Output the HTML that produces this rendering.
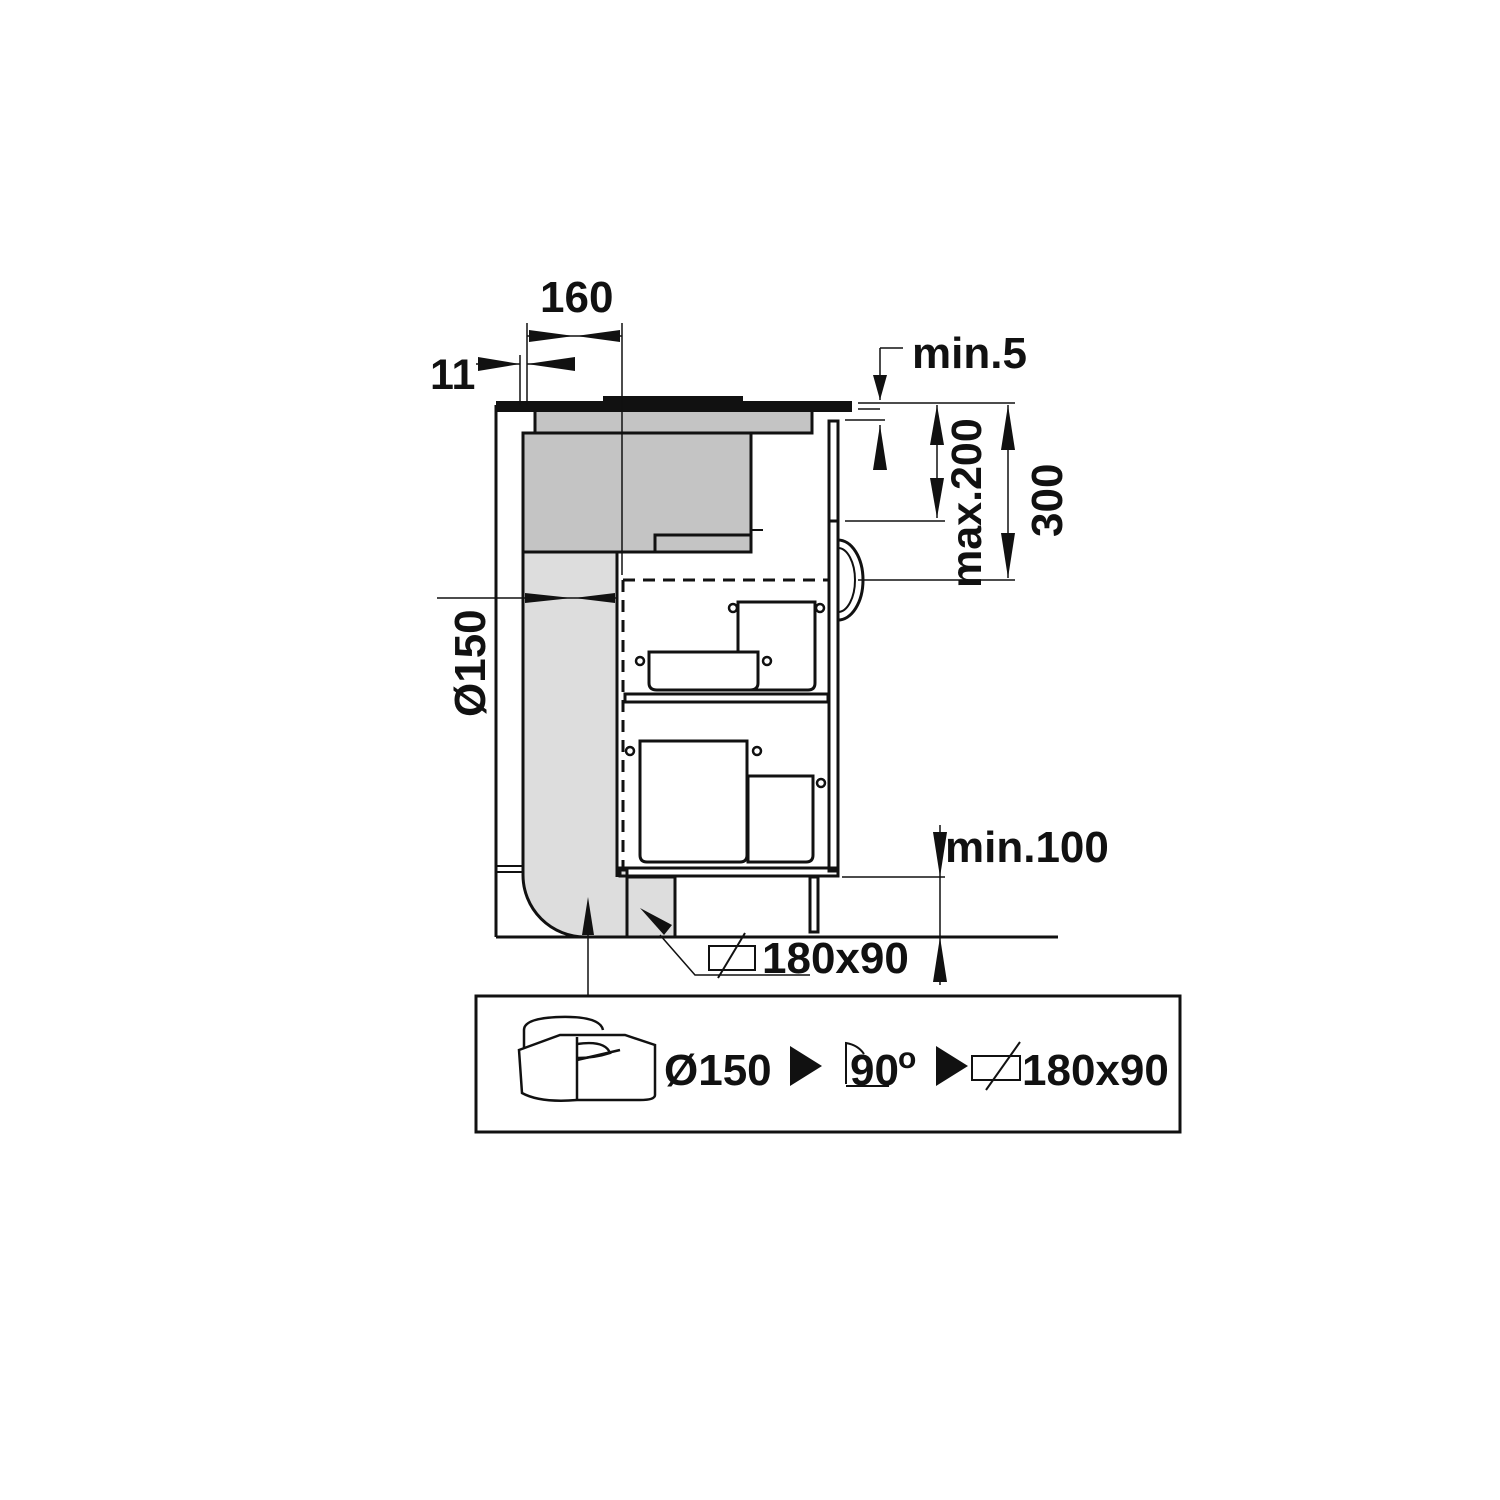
<!DOCTYPE html>
<html><head><meta charset="utf-8"><style>body{margin:0;background:#fff}svg{display:block}text{font-family:"Liberation Sans",sans-serif;font-weight:bold;fill:#111}</style></head>
<body>
<svg width="1500" height="1500" viewBox="0 0 1500 1500" xmlns="http://www.w3.org/2000/svg">
<g stroke="#111" fill="none">
<line x1="496" y1="405" x2="496" y2="937" stroke-width="3"/>
<line x1="496" y1="866" x2="523" y2="866" stroke-width="2"/>
<line x1="496" y1="872" x2="523" y2="872" stroke-width="2"/>
<line x1="496" y1="937" x2="1058" y2="937" stroke-width="3"/>
<path d="M523 552 H617 V870 H627 V937 H585 A62 62 0 0 1 523 875 Z" fill="#ddd" stroke-width="3"/>
<rect x="627" y="877" width="48" height="60" fill="#ddd" stroke-width="3"/>
<rect x="523" y="433" width="228" height="119" fill="#c4c4c4" stroke-width="3"/>
<rect x="535" y="407" width="277" height="26" fill="#c4c4c4" stroke-width="3"/>
<rect x="655" y="535" width="96" height="17" fill="#c4c4c4" stroke-width="3"/>
<line x1="751" y1="530" x2="763" y2="530" stroke-width="2"/>
<rect x="496" y="401" width="356" height="11" fill="#111" stroke="none"/>
<rect x="603" y="396" width="140" height="6" fill="#111" stroke="none"/>
<line x1="622" y1="323" x2="622" y2="575" stroke-width="1.5"/>
<line x1="527" y1="323" x2="527" y2="405" stroke-width="1.5"/>
<line x1="520" y1="355" x2="520" y2="405" stroke-width="1.5"/>
<rect x="829" y="421" width="9" height="100" stroke-width="3"/>
<rect x="829" y="521" width="9" height="350" stroke-width="3"/>
<path d="M838 540 A25 40 0 0 1 838 620" stroke-width="3"/>
<path d="M838 548 A17 32 0 0 1 838 612" stroke-width="2"/>
<line x1="617" y1="580" x2="617" y2="877" stroke-width="3"/>
<line x1="623" y1="580" x2="828" y2="580" stroke-width="3" stroke-dasharray="12,8"/>
<line x1="623" y1="580" x2="623" y2="870" stroke-width="3" stroke-dasharray="12,8"/>
<rect x="625" y="694" width="203" height="8" stroke-width="3"/>
<rect x="620" y="868" width="218" height="8" stroke-width="3"/>
<rect x="810" y="877" width="8" height="55" stroke-width="3"/>
<path d="M738 602 H815 V683 Q815 690 808 690 H745 Q738 690 738 683 Z" fill="#fff" stroke-width="3"/>
<circle cx="733" cy="608" r="4" stroke-width="2.5"/><circle cx="820" cy="608" r="4" stroke-width="2.5"/>
<path d="M649 652 H758 V683 Q758 690 750 690 H657 Q649 690 649 683 Z" fill="#fff" stroke-width="3"/>
<circle cx="640" cy="661" r="4" stroke-width="2.5"/><circle cx="767" cy="661" r="4" stroke-width="2.5"/>
<path d="M640 741 H747 V855 Q747 862 740 862 H647 Q640 862 640 855 Z" fill="#fff" stroke-width="3"/>
<circle cx="630" cy="751" r="4" stroke-width="2.5"/><circle cx="757" cy="751" r="4" stroke-width="2.5"/>
<path d="M748 776 H813 V855 Q813 862 806 862 H748 Z" fill="#fff" stroke-width="3"/>
<circle cx="821" cy="783" r="4" stroke-width="2.5"/>
<g stroke-width="1.5">
<line x1="858" y1="403" x2="1015" y2="403"/>
<line x1="858" y1="409" x2="880" y2="409"/>
<line x1="845" y1="420" x2="885" y2="420"/>
<line x1="845" y1="521" x2="945" y2="521"/>
<line x1="858" y1="580" x2="1015" y2="580"/>
<line x1="842" y1="877" x2="945" y2="877"/>
<line x1="937" y1="405" x2="937" y2="518"/>
<line x1="1008" y1="405" x2="1008" y2="578"/>
<line x1="880" y1="348" x2="880" y2="400"/>
<line x1="880" y1="348" x2="903" y2="348"/>
<line x1="880" y1="425" x2="880" y2="470"/>
<line x1="940" y1="825" x2="940" y2="985"/>
<line x1="437" y1="598" x2="617" y2="598"/>
<line x1="527" y1="336" x2="622" y2="336"/>
<line x1="476" y1="364" x2="520" y2="364"/>
<line x1="527" y1="364" x2="575" y2="364"/>
<line x1="588" y1="905" x2="588" y2="995"/>
<polyline points="660,935 695,975 810,975"/>
</g>
</g>
<g fill="#111">
<polygon points="880,400 873,375 887,375"/>
<polygon points="880,425 873,470 887,470"/>
<polygon points="937,405 930,445 944,445"/><polygon points="937,518 930,478 944,478"/>
<polygon points="1008,405 1001,450 1015,450"/><polygon points="1008,578 1001,533 1015,533"/>
<polygon points="940,877 933,832 947,832"/><polygon points="940,937 933,982 947,982"/>
<polygon points="572,598 525,593 525,603"/><polygon points="574,598 615,593 615,603"/>
<polygon points="574,336 529,330 529,342"/><polygon points="576,336 620,330 620,342"/>
<polygon points="520,364 478,357 478,371"/><polygon points="527,364 575,357 575,371"/>
<polygon points="588,897 582,935 594,935"/>
<polygon points="640,908 672,925 664,935"/>
</g>
<rect x="709" y="946" width="46" height="24" fill="none" stroke="#111" stroke-width="2"/>
<line x1="718" y1="978" x2="745" y2="933" stroke="#111" stroke-width="2"/>
<text x="540" y="312" font-size="44">160</text>
<text x="430" y="389" font-size="43">11</text>
<text x="912" y="368" font-size="44">min.5</text>
<text x="945" y="862" font-size="44">min.100</text>
<text x="762" y="973" font-size="44">180x90</text>
<text transform="translate(981,588) rotate(-90)" font-size="43">max.200</text>
<text transform="translate(1062,537) rotate(-90)" font-size="44">300</text>
<text transform="translate(485,717) rotate(-90)" font-size="44">Ø150</text>
<rect x="476" y="996" width="704" height="136" fill="none" stroke="#111" stroke-width="3"/>
<g fill="none" stroke="#111" stroke-width="2.5">
<path d="M524 1048 V1030 Q524 1018 560 1017 Q600 1016 603 1030"/>
<path d="M519 1050 L560 1035 H625 L655 1045 V1095 Q655 1100 640 1100 H577 Q540 1103 522 1093 Z"/>
<line x1="577" y1="1037" x2="577" y2="1100"/>
<path d="M577 1044 Q605 1040 610 1053 Q595 1058 577 1058"/>
<line x1="577" y1="1060" x2="620" y2="1050"/>
</g>
<text x="664" y="1085" font-size="44">Ø150</text>
<polygon points="790,1046 790,1086 822,1066" fill="#111"/>
<path d="M846 1084 V1043 Q858 1045 864 1054" fill="none" stroke="#111" stroke-width="2"/>
<line x1="846" y1="1086" x2="889" y2="1086" stroke="#111" stroke-width="2"/>
<text x="850" y="1085" font-size="44">90</text>
<text x="898" y="1068" font-size="30" font-weight="normal">o</text>
<polygon points="936,1046 936,1086 968,1066" fill="#111"/>
<rect x="972" y="1056" width="48" height="24" fill="none" stroke="#111" stroke-width="2"/>
<line x1="986" y1="1090" x2="1020" y2="1042" stroke="#111" stroke-width="2"/>
<text x="1022" y="1085" font-size="44">180x90</text>
</svg>
</body></html>
